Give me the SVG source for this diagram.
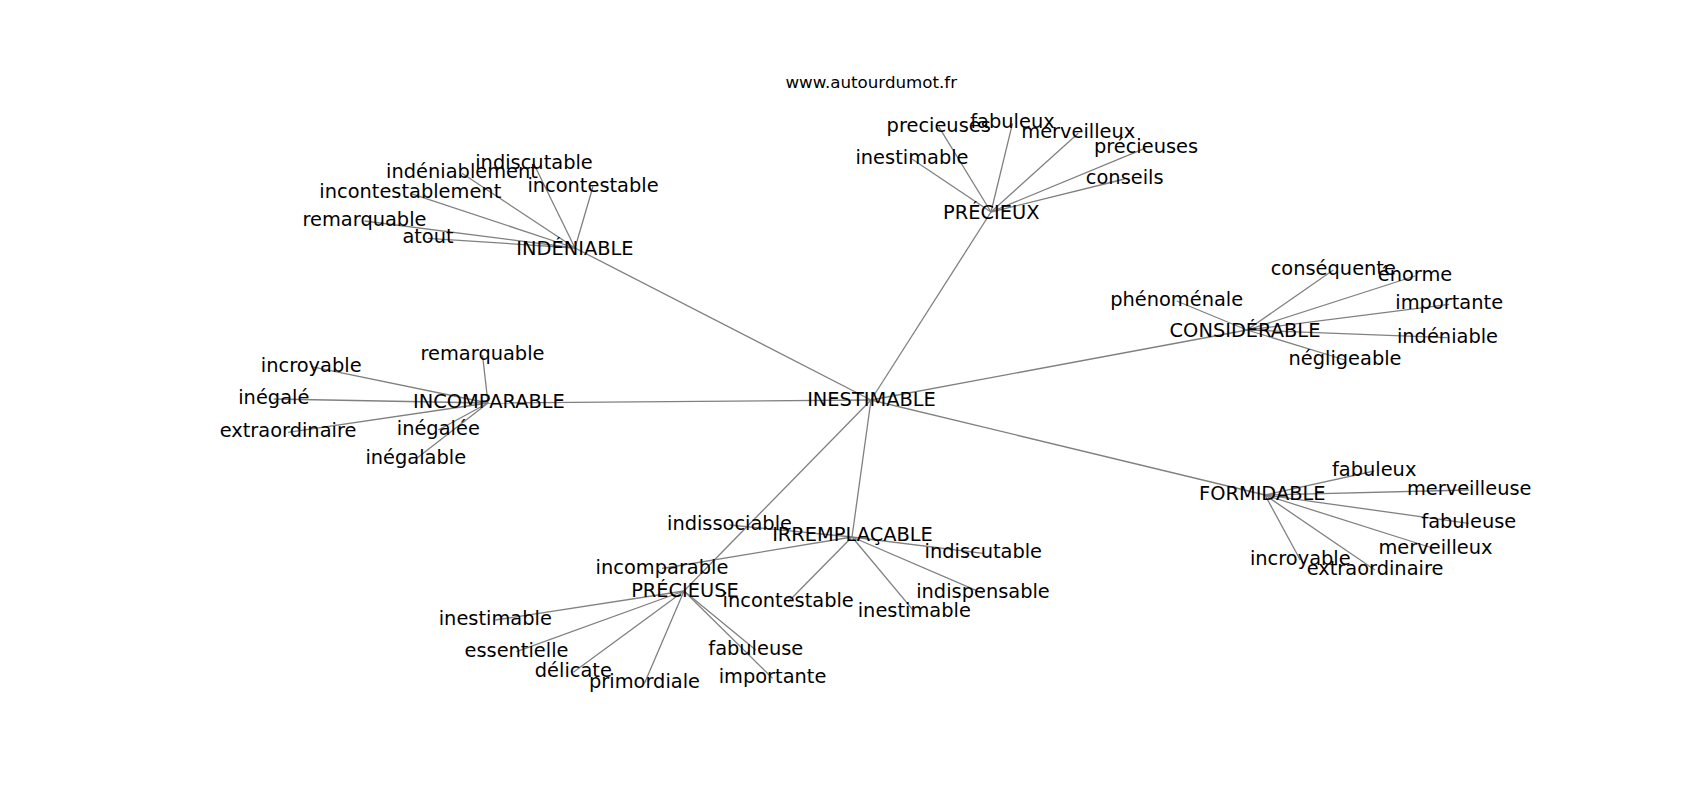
<svg xmlns="http://www.w3.org/2000/svg" width="1700" height="800" viewBox="0 0 1700 800">
<style>
  .e line { stroke: #808080; stroke-width: 1.3; fill: none; }
  text { font-family: "DejaVu Sans", "Liberation Sans", sans-serif; font-size: 19.4px; fill: #000; text-anchor: middle; }
  .title { font-size: 16.7px; }
</style>
<rect x="0" y="0" width="1700" height="800" fill="#fff"/>
<text class="title" x="871.3" y="88.3">www.autourdumot.fr</text>
<g id="edges" class="e">
  <line x1="871" y1="400" x2="575" y2="248"/>
  <line x1="871" y1="400" x2="991" y2="212"/>
  <line x1="871" y1="400" x2="1247" y2="330"/>
  <line x1="871" y1="400" x2="488" y2="403"/>
  <line x1="871" y1="400" x2="1265" y2="495"/>
  <line x1="871" y1="400" x2="852" y2="537"/>
  <line x1="871" y1="400" x2="684" y2="591"/>
  <line x1="575" y1="248" x2="534" y2="164.3"/>
  <line x1="575" y1="248" x2="462" y2="173.3"/>
  <line x1="575" y1="248" x2="593" y2="186.5"/>
  <line x1="575" y1="248" x2="410.3" y2="193.3"/>
  <line x1="575" y1="248" x2="364.5" y2="221"/>
  <line x1="575" y1="248" x2="428" y2="238.3"/>
  <line x1="991" y1="212" x2="938.7" y2="126.7"/>
  <line x1="991" y1="212" x2="1012.5" y2="123.3"/>
  <line x1="991" y1="212" x2="1078.3" y2="133.3"/>
  <line x1="991" y1="212" x2="1146" y2="147.8"/>
  <line x1="991" y1="212" x2="912" y2="159"/>
  <line x1="991" y1="212" x2="1124.7" y2="179"/>
  <line x1="1247" y1="330" x2="1333.3" y2="270"/>
  <line x1="1247" y1="330" x2="1415" y2="276"/>
  <line x1="1247" y1="330" x2="1176.7" y2="301"/>
  <line x1="1247" y1="330" x2="1449.2" y2="304.3"/>
  <line x1="1247" y1="330" x2="1447.5" y2="337.7"/>
  <line x1="1247" y1="330" x2="1345" y2="360"/>
  <line x1="488" y1="403" x2="482.5" y2="355"/>
  <line x1="488" y1="403" x2="311.2" y2="366.7"/>
  <line x1="488" y1="403" x2="273.8" y2="399"/>
  <line x1="488" y1="403" x2="288" y2="432.3"/>
  <line x1="488" y1="403" x2="438.3" y2="430"/>
  <line x1="488" y1="403" x2="415.8" y2="459"/>
  <line x1="1265" y1="495" x2="1374.2" y2="471"/>
  <line x1="1265" y1="495" x2="1469.2" y2="490"/>
  <line x1="1265" y1="495" x2="1468.8" y2="523.3"/>
  <line x1="1265" y1="495" x2="1435.5" y2="549"/>
  <line x1="1265" y1="495" x2="1300.3" y2="560"/>
  <line x1="1265" y1="495" x2="1375" y2="570"/>
  <line x1="852" y1="537" x2="729.5" y2="525"/>
  <line x1="852" y1="537" x2="983.3" y2="553.3"/>
  <line x1="852" y1="537" x2="662" y2="568.5"/>
  <line x1="852" y1="537" x2="788.2" y2="601.7"/>
  <line x1="852" y1="537" x2="983" y2="593.3"/>
  <line x1="852" y1="537" x2="914.3" y2="611.7"/>
  <line x1="684" y1="591" x2="495.3" y2="620"/>
  <line x1="684" y1="591" x2="516.5" y2="651.7"/>
  <line x1="684" y1="591" x2="573.3" y2="672.3"/>
  <line x1="684" y1="591" x2="644.5" y2="683.3"/>
  <line x1="684" y1="591" x2="755.8" y2="650"/>
  <line x1="684" y1="591" x2="772.5" y2="678.3"/>
</g>
<g id="n-inestimable"><text x="871.5" y="405.5">INESTIMABLE</text></g>
<g id="n-indeniable"><text x="575" y="255">INDÉNIABLE</text></g>
<g id="n-precieux"><text x="991.3" y="218.5">PRÉCIEUX</text></g>
<g id="n-considerable"><text x="1245" y="336.7">CONSIDÉRABLE</text></g>
<g id="n-incomparable"><text x="489" y="408.3">INCOMPARABLE</text></g>
<g id="n-formidable"><text x="1262.3" y="500">FORMIDABLE</text></g>
<g id="n-irremplacable"><text x="852.5" y="541">IRREMPLAÇABLE</text></g>
<g id="n-precieuse"><text x="685" y="597.3">PRÉCIEUSE</text></g>

<g id="n-indiscutable-1"><text x="534" y="169.3">indiscutable</text></g>
<g id="n-indeniablement"><text x="462" y="178.3">indéniablement</text></g>
<g id="n-incontestable-1"><text x="593" y="191.5">incontestable</text></g>
<g id="n-incontestablement"><text x="410.3" y="198.3">incontestablement</text></g>
<g id="n-remarquable-1"><text x="364.5" y="226">remarquable</text></g>
<g id="n-atout"><text x="428" y="243.3">atout</text></g>

<g id="n-precieuses-1"><text x="938.7" y="131.7">precieuses</text></g>
<g id="n-fabuleux-1"><text x="1012.5" y="128.3">fabuleux</text></g>
<g id="n-merveilleux-1"><text x="1078.3" y="138.3">merveilleux</text></g>
<g id="n-precieuses-2"><text x="1146" y="152.8">précieuses</text></g>
<g id="n-inestimable-1"><text x="912" y="164">inestimable</text></g>
<g id="n-conseils"><text x="1124.7" y="184">conseils</text></g>

<g id="n-consequente"><text x="1333.3" y="275">conséquente</text></g>
<g id="n-enorme"><text x="1415" y="281">énorme</text></g>
<g id="n-phenomenale"><text x="1176.7" y="306">phénoménale</text></g>
<g id="n-importante-1"><text x="1449.2" y="309.3">importante</text></g>
<g id="n-indeniable-2"><text x="1447.5" y="342.7">indéniable</text></g>
<g id="n-negligeable"><text x="1345" y="365">négligeable</text></g>

<g id="n-remarquable-2"><text x="482.5" y="360">remarquable</text></g>
<g id="n-incroyable-1"><text x="311.2" y="371.7">incroyable</text></g>
<g id="n-inegale"><text x="273.8" y="404">inégalé</text></g>
<g id="n-extraordinaire-1"><text x="288" y="437.3">extraordinaire</text></g>
<g id="n-inegalee"><text x="438.3" y="435">inégalée</text></g>
<g id="n-inegalable"><text x="415.8" y="464">inégalable</text></g>

<g id="n-fabuleux-2"><text x="1374.2" y="476">fabuleux</text></g>
<g id="n-merveilleuse"><text x="1469.2" y="495">merveilleuse</text></g>
<g id="n-fabuleuse-1"><text x="1468.8" y="528.3">fabuleuse</text></g>
<g id="n-merveilleux-2"><text x="1435.5" y="554">merveilleux</text></g>
<g id="n-incroyable-2"><text x="1300.3" y="565">incroyable</text></g>
<g id="n-extraordinaire-2"><text x="1375" y="575">extraordinaire</text></g>

<g id="n-indissociable"><text x="729.5" y="530">indissociable</text></g>
<g id="n-indiscutable-2"><text x="983.3" y="558.3">indiscutable</text></g>
<g id="n-incomparable-2"><text x="662" y="573.5">incomparable</text></g>
<g id="n-incontestable-2"><text x="788.2" y="606.7">incontestable</text></g>
<g id="n-indispensable"><text x="983" y="598.3">indispensable</text></g>
<g id="n-inestimable-2"><text x="914.3" y="616.7">inestimable</text></g>

<g id="n-inestimable-3"><text x="495.3" y="625">inestimable</text></g>
<g id="n-essentielle"><text x="516.5" y="656.7">essentielle</text></g>
<g id="n-delicate"><text x="573.3" y="677.3">délicate</text></g>
<g id="n-primordiale"><text x="644.5" y="688.3">primordiale</text></g>
<g id="n-fabuleuse-2"><text x="755.8" y="655">fabuleuse</text></g>
<g id="n-importante-2"><text x="772.5" y="683.3">importante</text></g>
</svg>
